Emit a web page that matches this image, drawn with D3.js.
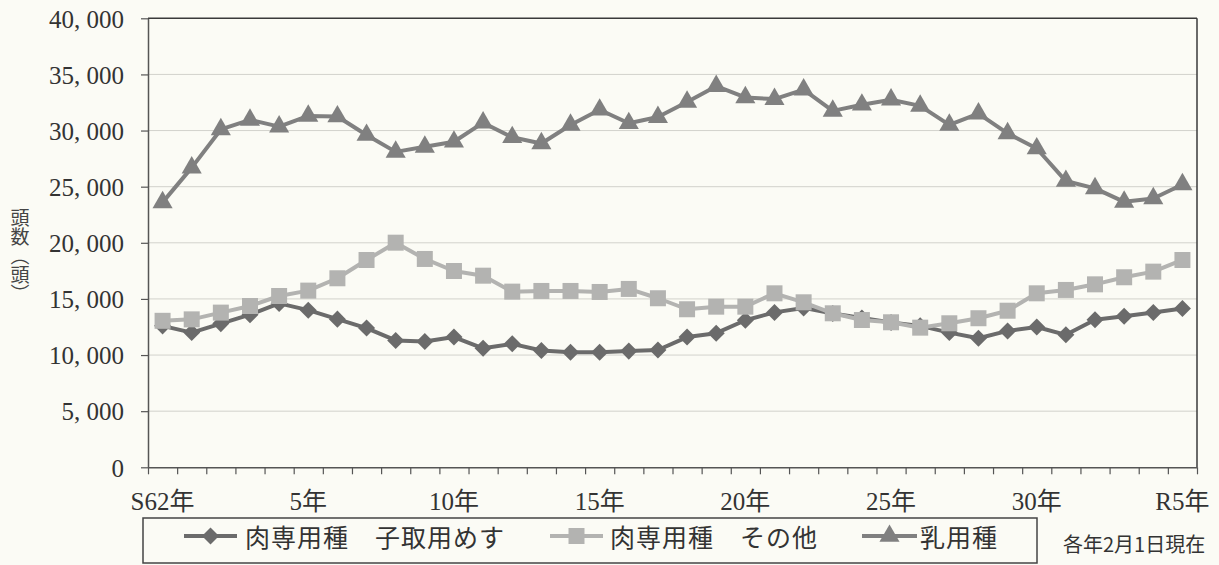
<!DOCTYPE html>
<html>
<head>
<meta charset="utf-8">
<script src="https://cdn.jsdelivr.net/npm/d3@7"></script>
<style>
  html, body { margin: 0; padding: 0; background: #fbfbf5; }
  svg { display: block; }
</style>
</head>
<body>
<svg id="chart" width="1219" height="565"></svg>
<script>
// ---- data ----
const categories = ["S62","H1","H2","H3","H4","H5","H6","H7","H8","H9","H10",
  "H11","H12","H13","H14","H15","H16","H17","H18","H19","H20",
  "H21","H22","H23","H24","H25","H26","H27","H28","H29","H30",
  "H31","R2","R3","R4","R5"];
const tickLabels = {"S62":"S62年","H5":"5年","H10":"10年","H15":"15年","H20":"20年","H25":"25年","H30":"30年","R5":"R5年"};
const seriesNames = ["肉専用種　子取用めす", "肉専用種　その他", "乳用種"];
const beefBreeding = [12600,12000,12800,13600,14600,14000,13200,12400,11300,11200,11600,
  10600,11000,10400,10250,10250,10350,10450,11600,11950,13100,
  13800,14200,13700,13300,12900,12600,12000,11500,12150,12500,
  11800,13150,13450,13800,14150];
const beefOther = [13050,13180,13780,14370,15260,15740,16840,18470,20010,18560,17490,
  17070,15650,15710,15710,15620,15890,15060,14080,14310,14310,
  15500,14700,13720,13120,12920,12440,12830,13280,13950,15500,
  15800,16300,16930,17430,18470];
const dairy = [23600,26700,30100,30950,30350,31300,31250,29600,28100,28550,29000,
  30700,29400,28850,30500,31850,30650,31200,32550,33950,32950,
  32800,33650,31750,32300,32750,32200,30500,31500,29750,28400,
  25500,24850,23650,23950,25200];
const yTicks = [0,5000,10000,15000,20000,25000,30000,35000,40000];
const yAxisTitle = "頭数（頭）";
const note = "各年2月1日現在";

// ---- layout ----
const L = 148, R = 1197, T = 18.3, B = 467.3;
const svg = d3.select("#chart");
svg.append("rect").attr("width",1219).attr("height",565).attr("fill","#fbfbf5");

const x = d3.scaleBand().domain(categories).range([L, R]).padding(0);
const y = d3.scaleLinear().domain([0, 40000]).range([B, T]);
const cx = d => x(d) + x.bandwidth()/2;

const numFont = "'Liberation Serif', 'Noto Sans CJK JP', serif";
const jpFont = "'Noto Sans CJK JP', sans-serif";

// gridlines
svg.append("g").selectAll("line").data(yTicks.filter(v => v > 0 && v < 40000)).join("line")
  .attr("x1", L).attr("x2", R).attr("y1", d => y(d)).attr("y2", d => y(d))
  .attr("stroke", "#d2d2cc").attr("stroke-width", 1);

// frame top & right
svg.append("line").attr("x1", L).attr("x2", R).attr("y1", T).attr("y2", T).attr("stroke", "#3a3a3a").attr("stroke-width", 1.5);
svg.append("line").attr("x1", R).attr("x2", R).attr("y1", T).attr("y2", B).attr("stroke", "#3a3a3a").attr("stroke-width", 1.5);

// y axis
const yAxis = d3.axisLeft(y).tickValues(yTicks).tickSize(7).tickSizeOuter(0)
  .tickFormat(d => d3.format(",")(d).replace(/,/g, ", "));
const gy = svg.append("g").attr("transform", `translate(${L},0)`).call(yAxis);
gy.select(".domain").attr("stroke", "#555").attr("stroke-width", 1.5);
gy.selectAll(".tick line").attr("stroke", "#555").attr("stroke-width", 1.2);
gy.selectAll(".tick text").attr("font-family", numFont).attr("font-size", 25)
  .attr("fill", "#333").attr("x", -24).attr("dy", "0.35em");

// x axis: ticks at band boundaries
const xAxisScale = d3.scaleLinear().domain([0, categories.length]).range([L, R]);
const xAxis = d3.axisBottom(xAxisScale).tickValues(d3.range(categories.length + 1))
  .tickSize(7).tickSizeOuter(0).tickFormat("");
const gx = svg.append("g").attr("transform", `translate(0,${B})`).call(xAxis);
gx.select(".domain").attr("stroke", "#555").attr("stroke-width", 1.5);
gx.selectAll(".tick line").attr("stroke", "#555").attr("stroke-width", 1.2);

svg.append("g").selectAll("text").data(categories.filter(c => tickLabels[c])).join("text")
  .attr("x", d => cx(d)).attr("y", 510).attr("text-anchor", "middle")
  .attr("font-family", numFont).attr("font-size", 25).attr("fill", "#333")
  .text(d => tickLabels[d]);

// y axis title (vertical)
svg.append("text").attr("x", 20).attr("y", 208)
  .attr("font-family", jpFont).attr("font-size", 19).attr("fill", "#444")
  .style("writing-mode", "vertical-rl")
  .text(yAxisTitle);

// ---- series ----
const styles = [
  { data: beefBreeding, color: "#6b6b6b", sym: d3.symbolSquare, size: 145, rot: 45 },
  { data: beefOther,    color: "#b3b3b1", sym: d3.symbolSquare, size: 256, rot: 0 },
  { data: dairy,        color: "#808080", sym: d3.symbolTriangle, size: 175, rot: 0 }
];
const line = d3.line().x((d, i) => cx(categories[i])).y(d => y(d));

styles.forEach(s => {
  const g = svg.append("g");
  g.append("path").datum(s.data).attr("d", line).attr("fill", "none")
    .attr("stroke", s.color).attr("stroke-width", 4).attr("stroke-linejoin", "round");
  g.selectAll("path.m").data(s.data).join("path").attr("class", "m")
    .attr("d", d3.symbol().type(s.sym).size(s.size))
    .attr("transform", (d, i) => `translate(${cx(categories[i])},${y(d)}) rotate(${s.rot})`)
    .attr("fill", s.color);
});

// ---- legend ----
svg.append("rect").attr("x", 143).attr("y", 518).attr("width", 894).attr("height", 45)
  .attr("fill", "none").attr("stroke", "#444").attr("stroke-width", 1.5);
const legendItems = [
  { x0: 184, x1: 237, tx: 245 },
  { x0: 550, x1: 603, tx: 610 },
  { x0: 862, x1: 917, tx: 920 }
];
legendItems.forEach((it, k) => {
  const s = styles[k];
  const ly = 536;
  svg.append("line").attr("x1", it.x0).attr("x2", it.x1).attr("y1", ly).attr("y2", ly)
    .attr("stroke", s.color).attr("stroke-width", 4);
  svg.append("path").attr("d", d3.symbol().type(s.sym).size(s.size))
    .attr("transform", `translate(${(it.x0 + it.x1) / 2},${ly}) rotate(${s.rot})`)
    .attr("fill", s.color);
  svg.append("text").attr("x", it.tx).attr("y", ly).attr("dominant-baseline", "central")
    .attr("font-family", jpFont).attr("font-size", 25).attr("letter-spacing", 1)
    .attr("fill", "#333").text(seriesNames[k]);
});

svg.append("text").attr("x", 1063).attr("y", 543).attr("dominant-baseline", "central")
  .attr("font-family", jpFont).attr("font-size", 20).attr("fill", "#333").text(note);
</script>
</body>
</html>
